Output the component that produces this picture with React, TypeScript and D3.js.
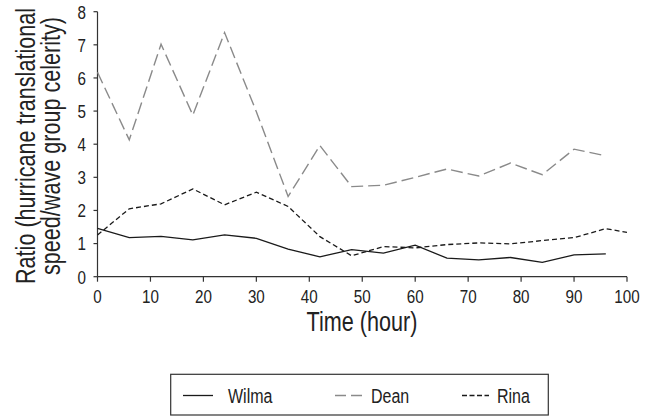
import React from "react";
import * as d3 from "d3";

const hours = [0, 6, 12, 18, 24, 30, 36, 42, 48, 54, 60, 66, 72, 78, 84, 90, 96];
const rinaHours = [0, 6, 12, 18, 24, 30, 36, 42, 48, 54, 60, 66, 72, 78, 84, 90, 96, 100];
const wilma = [1.46, 1.18, 1.22, 1.11, 1.26, 1.16, 0.83, 0.6, 0.82, 0.71, 0.95, 0.56, 0.51, 0.58, 0.43, 0.66, 0.69];
const dean = [6.17, 4.13, 7.02, 4.88, 7.37, 4.98, 2.42, 3.96, 2.72, 2.76, 3.0, 3.25, 3.04, 3.43, 3.08, 3.85, 3.65];
const rina = [1.26, 2.05, 2.2, 2.65, 2.17, 2.55, 2.12, 1.21, 0.63, 0.91, 0.87, 0.97, 1.02, 0.99, 1.09, 1.18, 1.45, 1.34];
const xTicks = [0, 10, 20, 30, 40, 50, 60, 70, 80, 90, 100];
const yTicks = [0, 1, 2, 3, 4, 5, 6, 7, 8];
const seriesNames = ["Wilma", "Dean", "Rina"];

const FONT = "'Liberation Sans', Arial, sans-serif";
const SX = 0.8;

function T(props: {
  x: number;
  y: number;
  size: number;
  anchor?: "start" | "middle" | "end";
  rotate?: number;
  children: React.ReactNode;
}) {
  const { x, y, size, anchor = "start", rotate = 0, children } = props;
  return (
    <text
      transform={`translate(${x},${y})${rotate ? ` rotate(${rotate})` : ""} scale(${SX},1)`}
      textAnchor={anchor}
      fontSize={size}
      fill="#222"
      fontFamily={FONT}
    >
      {children}
    </text>
  );
}

export default function App() {
  const x = d3.scaleLinear().domain([0, 100]).range([97.5, 627]);
  const y = d3.scaleLinear().domain([0, 8]).range([276.7, 11.7]);
  const line = d3
    .line<[number, number]>()
    .x((d) => x(d[0]))
    .y((d) => y(d[1]));

  const series = [
    { name: seriesNames[0], pts: hours.map((h, i) => [h, wilma[i]] as [number, number]), color: "#1a1a1a", dash: "none", w: 1.3 },
    { name: seriesNames[1], pts: hours.map((h, i) => [h, dean[i]] as [number, number]), color: "#8a8a8a", dash: "12,5", w: 1.4 },
    { name: seriesNames[2], pts: rinaHours.map((h, i) => [h, rina[i]] as [number, number]), color: "#1a1a1a", dash: "5,3", w: 1.3 },
  ];

  const axisColor = "#333";

  const legendItems = [
    { x1: 183, x2: 213, tx: 228 },
    { x1: 335, x2: 362, tx: 371 },
    { x1: 462, x2: 489, tx: 497 },
  ];

  return (
    <svg width={660} height={417} style={{ position: "absolute", left: 0, top: 0, background: "#fff" }}>
      <rect x={0} y={0} width={660} height={417} fill="#fff" />
      {/* axes */}
      <line x1={x(0)} x2={x(100)} y1={y(0)} y2={y(0)} stroke={axisColor} strokeWidth={1.2} />
      <line x1={x(0)} x2={x(0)} y1={y(0)} y2={y(8)} stroke={axisColor} strokeWidth={1.2} />
      {xTicks.map((t) => (
        <g key={"xt" + t}>
          <line x1={x(t)} x2={x(t)} y1={y(0)} y2={y(0) + 5} stroke={axisColor} strokeWidth={1.2} />
          <T x={x(t)} y={303} size={19} anchor="middle">
            {t}
          </T>
        </g>
      ))}
      {yTicks.map((t) => (
        <g key={"yt" + t}>
          <line x1={x(0) - 4} x2={x(0)} y1={y(t)} y2={y(t)} stroke={axisColor} strokeWidth={1.2} />
          <T x={86} y={y(t) + 6.8} size={19} anchor="end">
            {t}
          </T>
        </g>
      ))}
      <T x={362} y={331} size={27} anchor="middle">
        Time (hour)
      </T>
      <T x={35} y={146} size={27} anchor="middle" rotate={-90}>
        Ratio (hurricane translational
      </T>
      <T x={60} y={146} size={27} anchor="middle" rotate={-90}>
        speed/wave group celerity)
      </T>

      {/* series */}
      {series.map((s) => (
        <path
          key={s.name}
          d={line(s.pts) || ""}
          fill="none"
          stroke={s.color}
          strokeWidth={s.w}
          strokeDasharray={s.dash}
        />
      ))}

      {/* legend */}
      <rect x={170.7} y={374.3} width={377.6} height={40.7} fill="#fff" stroke="#333" strokeWidth={1.2} />
      {series.map((s, i) => (
        <g key={"lg" + s.name}>
          <line
            x1={legendItems[i].x1}
            x2={legendItems[i].x2}
            y1={395.5}
            y2={395.5}
            stroke={s.color}
            strokeWidth={s.w}
            strokeDasharray={s.name === "Dean" ? "11,5" : s.name === "Rina" ? "5,2.5" : "none"}
          />
          <T x={legendItems[i].tx} y={403} size={20}>
            {s.name}
          </T>
        </g>
      ))}
    </svg>
  );
}
